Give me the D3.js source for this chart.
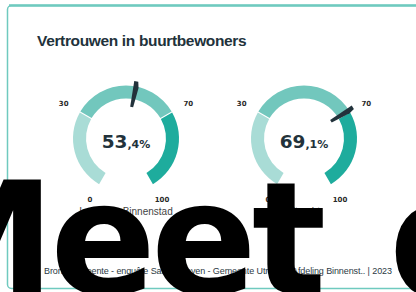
<!DOCTYPE html>
<html lang="nl">
<head>
  <meta charset="UTF-8">
  <title>Vertrouwen in buurtbewoners</title>
  <script src="https://d3js.org/d3.v7.min.js"></script>
  <style>
    body { margin: 0; padding: 0; background: #fff; overflow: hidden; }
    svg { display: block; }
  </style>
</head>
<body>
  <svg id="chart" width="416" height="292"></svg>
  <script>
    // data
    var gauges = ['Binnenstad', 'Utrecht'];
    var values = [53.4, 69.1];
    var captions = ['Inwoners Binnenstad', 'Utrecht'];
    var bands = [[0, 30], [30, 70], [70, 100]];
    var tickValues = [0, 30, 70, 100];
    var title = 'Vertrouwen in buurtbewoners';
    var footer = 'Bron: Gemeente - enquête Samen Leven - Gemeente Utrecht - Afdeling Binnenst.. | 2023';

    var bandColors = ['#a9dcd6', '#72c7bd', '#1eac9d'];
    var dark = '#22323b';

    var svg = d3.select('#chart');

    // card
    svg.append('rect')
      .attr('x', 7.5).attr('y', 5.5)
      .attr('width', 420).attr('height', 283)
      .attr('rx', 4)
      .attr('fill', '#fff')
      .attr('stroke', '#6fcabf')
      .attr('stroke-width', 1.5);
    svg.append('line')
      .attr('x1', 9).attr('x2', 416)
      .attr('y1', 5.5).attr('y2', 5.5)
      .attr('stroke', '#6fcabf')
      .attr('stroke-width', 2.5);

    svg.append('text')
      .attr('x', 37).attr('y', 45.5)
      .attr('font-family', 'Liberation Sans, Arial, sans-serif')
      .attr('font-size', 15.5)
      .attr('font-weight', 700)
      .attr('letter-spacing', -0.35)
      .attr('fill', dark)
      .text(title);

    var xPos = d3.scaleBand().domain(gauges).range([37, 393]);
    var angle = d3.scaleLinear().domain([0, 100]).range([-150, 150].map(function(d) { return d * Math.PI / 180; }));

    var outerR = 53, innerR = 40, cy = 138.5;
    var arc = d3.arc().innerRadius(innerR).outerRadius(outerR).padAngle(0.015);

    var g = svg.selectAll('g.gauge')
      .data(gauges).enter().append('g')
      .attr('class', 'gauge')
      .attr('transform', function(d) {
        return 'translate(' + (xPos(d) + xPos.bandwidth() / 2) + ',' + cy + ')';
      });

    g.selectAll('path.band')
      .data(bands).enter().append('path')
      .attr('class', 'band')
      .attr('fill', function(d, i) { return bandColors[i]; })
      .attr('d', function(d) {
        return arc({startAngle: angle(d[0]), endAngle: angle(d[1])});
      });

    g.selectAll('text.tick')
      .data(tickValues).enter().append('text')
      .attr('class', 'tick')
      .attr('x', function(d) { return 72 * Math.sin(angle(d)); })
      .attr('y', function(d) { return -70 * Math.cos(angle(d)) + 2.5; })
      .attr('text-anchor', 'middle')
      .attr('font-family', 'DejaVu Sans, sans-serif')
      .attr('font-size', 7)
      .attr('font-weight', 700)
      .attr('fill', '#2a2a2a')
      .text(function(d) { return d; });

    // needle
    g.append('path')
      .attr('fill', dark)
      .attr('d', function(d, i) {
        var a = angle(values[i]);
        var r0 = 32, r1 = 58, w0 = 1.5, w1 = 3.4;
        var s = Math.sin(a), c = -Math.cos(a);
        var px = Math.cos(a), py = Math.sin(a);
        return 'M' + [r0 * s - w0 * px, r0 * c - w0 * py] +
          'L' + [r1 * s - w1 * px * 0.6, r1 * c - w1 * py * 0.6] +
          'L' + [r1 * s + w1 * px * 0.6, r1 * c + w1 * py * 0.6] +
          'L' + [(r1 - 6) * s + w1 * px, (r1 - 6) * c + w1 * py] +
          'L' + [r0 * s + w0 * px, r0 * c + w0 * py] + 'Z';
      });

    var val = g.append('text')
      .attr('y', 9)
      .attr('text-anchor', 'middle')
      .attr('font-family', 'DejaVu Sans, sans-serif')
      .attr('font-weight', 700)
      .attr('fill', dark);
    val.append('tspan')
      .attr('font-size', 18.5)
      .text(function(d, i) { return d3.format('.1f')(values[i]).split('.')[0]; });
    val.append('tspan')
      .attr('font-size', 11)
      .text(function(d, i) { return ',' + d3.format('.1f')(values[i]).split('.')[1] + '%'; });

    g.append('text')
      .attr('y', 76)
      .attr('text-anchor', 'middle')
      .attr('font-family', 'Liberation Sans, Arial, sans-serif')
      .attr('font-size', 10)
      .attr('fill', '#444')
      .text(function(d, i) { return captions[i]; });

    svg.append('text')
      .attr('x', 44).attr('y', 274)
      .attr('font-family', 'Liberation Sans, Arial, sans-serif')
      .attr('font-size', 9)
      .attr('fill', '#2c3a44')
      .attr('textLength', 348)
      .text(footer);

    // large overlay text
    svg.append('text')
      .attr('x', -100).attr('y', 294)
      .attr('font-family', 'DejaVu Sans, sans-serif')
      .attr('font-weight', 700)
      .attr('font-size', 156)
      .attr('letter-spacing', -5)
      .attr('word-spacing', 18)
      .attr('fill', '#000')
      .text('Meet de');
  </script>
</body>
</html>
